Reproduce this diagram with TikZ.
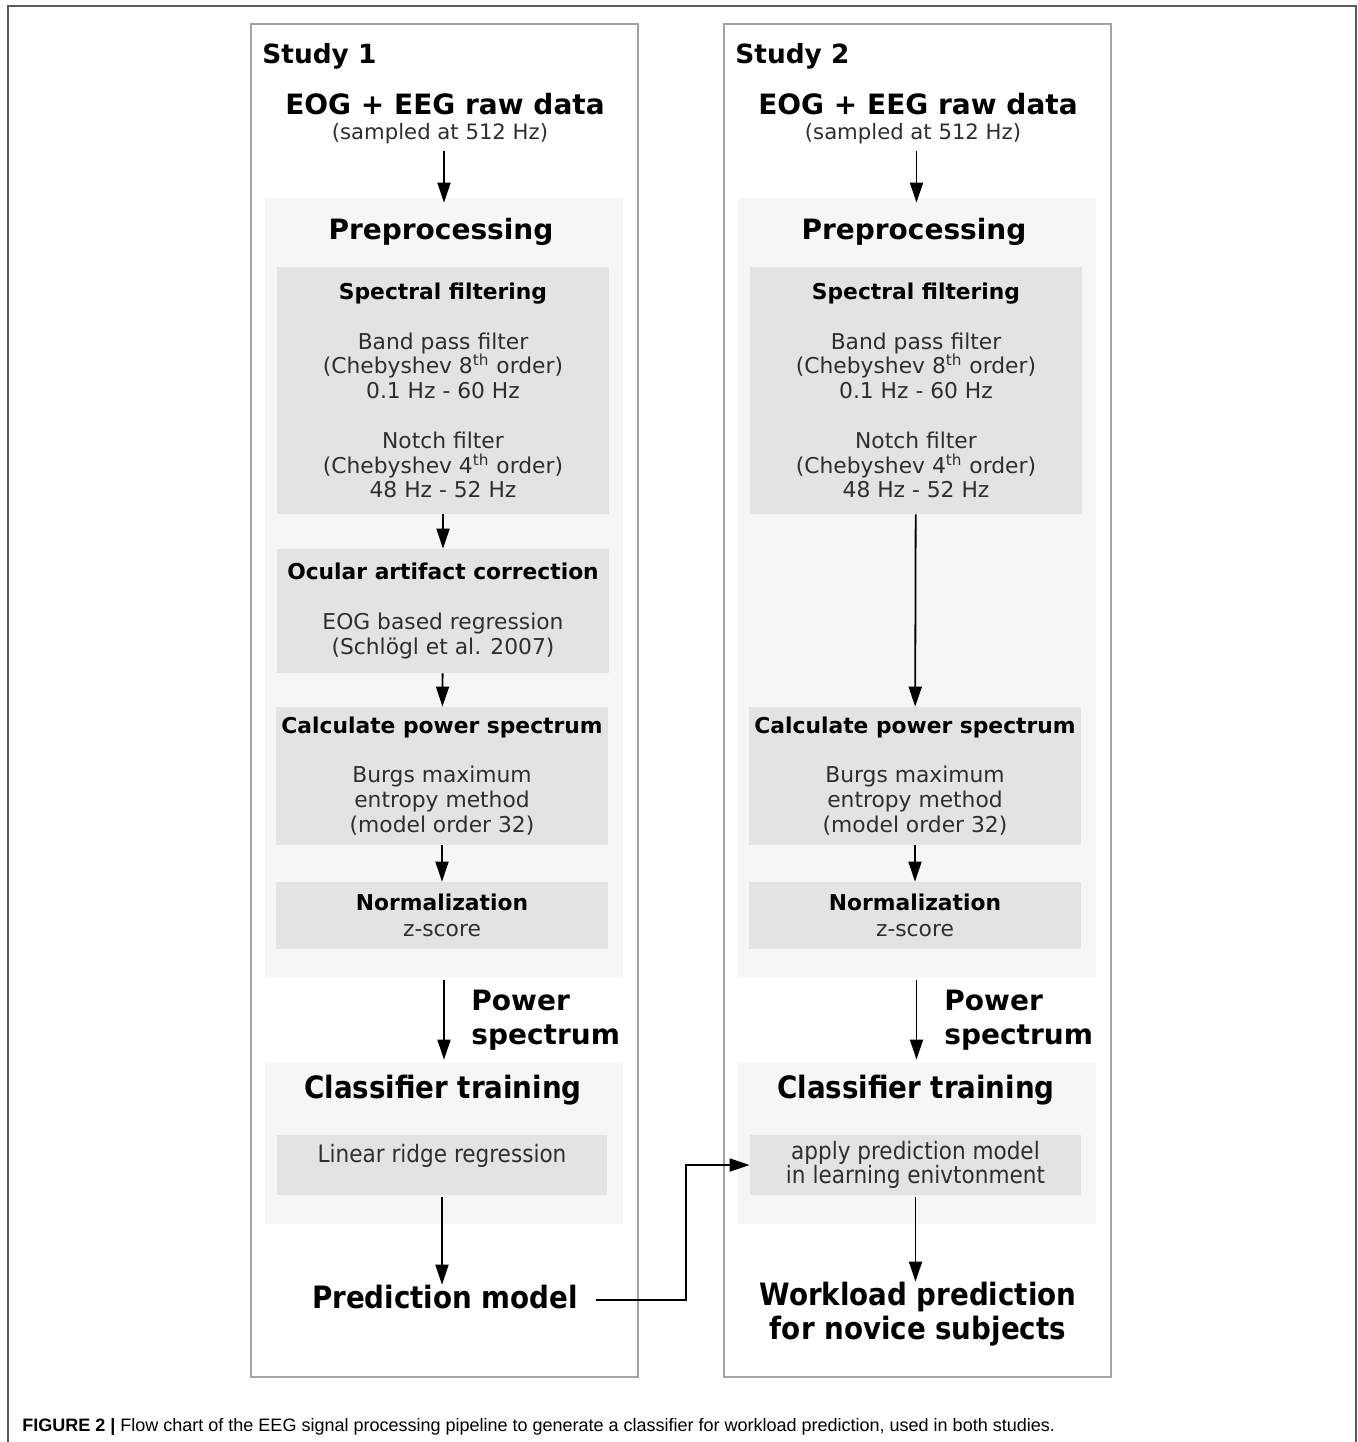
\documentclass[tikz,border=0pt]{standalone}
\usepackage{fontspec}
\setmainfont{DejaVu Sans}
\newfontfamily\condfont{DejaVu Sans Condensed}
\newfontfamily\capfont{Liberation Sans}
\usetikzlibrary{arrows.meta, positioning}
\definecolor{framegray}{HTML}{A3A3A3}
\definecolor{panelgray}{HTML}{F6F6F6}
\definecolor{boxgray}{HTML}{E3E3E3}
\definecolor{textgray}{HTML}{2E2E2E}
\definecolor{outergray}{HTML}{5A5A5A}

\begin{document}
\begin{tikzpicture}[
		x=0.5pt, y=-0.5pt,
		every node/.style={inner sep=0pt, align=center},
		studyframe/.style={draw=framegray, line width=1pt, minimum width=193.5pt, minimum height=676.5pt},
		panel/.style={fill=panelgray, minimum width=179pt},
		stepbox/.style={fill=boxgray, minimum width=166pt, text=textgray, font=\fontsize{10.9}{12.4}\selectfont},
		studylabel/.style={font=\fontsize{13.2}{16}\selectfont\bfseries},
		headline/.style={font=\fontsize{14}{17}\selectfont\bfseries},
		condline/.style={font=\condfont\fontsize{15.4}{17}\selectfont\bfseries},
		note/.style={font=\fontsize{10.6}{13}\selectfont, text=textgray},
		arrow/.style={-{Triangle[length=10pt,width=6.5pt]}, line width=0.9pt}
		]
		
		\useasboundingbox (0,0) rectangle (1358,1442);
		
		% Outer figure frame
		\draw[outergray, line width=0.75pt] (8,1442) -- (8,6) -- (1356,6) -- (1356,1442);
		
		% Study 1
		\node (study1) [studyframe] at (444.5,700.5) {};
		\node (lbl1) [studylabel, anchor=west] at (262,56) {Study 1};
		\node (raw1) [headline] at (445,104) {EOG + EEG raw data};
		\node (samp1) [note] at (440,134) {(sampled at 512 Hz)};
		
		\node (prep1) [panel, minimum height=389.5pt] at (444,587.5) {};
		\node (preptitle1) [headline] at (441,232) {Preprocessing};
		\node (spec1) [stepbox, minimum height=123.5pt] at (443,390.5) {\textcolor{black}{\textbf{Spectral filtering}}\\[12.4pt] Band pass filter\\(Chebyshev 8\textsuperscript{th} order)\\0.1 Hz - 60 Hz\\[12.4pt] Notch filter\\(Chebyshev 4\textsuperscript{th} order)\\48 Hz - 52 Hz};
		\node (ocu1) [stepbox, minimum height=62pt] at (443,611) {\textcolor{black}{\textbf{Ocular artifact correction}}\\[12.4pt] EOG based regression\\(Schlögl et al. 2007)};
		\node (pow1) [stepbox, minimum height=69pt] at (442,776) {\textcolor{black}{\textbf{Calculate power spectrum}}\\[12.4pt] Burgs maximum\\entropy method\\(model order 32)};
		\node (norm1) [stepbox, minimum height=33.5pt] at (442,915.5) {\textcolor{black}{\textbf{Normalization}}\\[0.6pt] z-score};
		
		\node (ps1) [headline, anchor=west, align=left] at (471,1020) {Power\\spectrum};
		
		\node (cls1) [panel, minimum height=80.5pt] at (444,1143.5) {};
		\node (clstitle1) [condline] at (443,1090) {Classifier training};
		\node (lin1) [stepbox, minimum width=165pt, minimum height=30pt, font=\condfont\fontsize{12}{12}\selectfont] at (442,1165) {Linear ridge regression\\\mbox{}};
		\node (predm1) [condline] at (445,1297) {Prediction model};
		
		% Study 2
		\node (study2) [studyframe] at (917.5,700.5) {};
		\node (lbl2) [studylabel, anchor=west] at (735,56) {Study 2};
		\node (raw2) [headline] at (918,104) {EOG + EEG raw data};
		\node (samp2) [note] at (913,134) {(sampled at 512 Hz)};
		
		\node (prep2) [panel, minimum height=389.5pt] at (916.5,587.5) {};
		\node (preptitle2) [headline] at (914,232) {Preprocessing};
		\node (spec2) [stepbox, minimum height=123.5pt] at (916,390.5) {\textcolor{black}{\textbf{Spectral filtering}}\\[12.4pt] Band pass filter\\(Chebyshev 8\textsuperscript{th} order)\\0.1 Hz - 60 Hz\\[12.4pt] Notch filter\\(Chebyshev 4\textsuperscript{th} order)\\48 Hz - 52 Hz};
		\node (pow2) [stepbox, minimum height=69pt] at (915,776) {\textcolor{black}{\textbf{Calculate power spectrum}}\\[12.4pt] Burgs maximum\\entropy method\\(model order 32)};
		\node (norm2) [stepbox, minimum height=33.5pt] at (915,915.5) {\textcolor{black}{\textbf{Normalization}}\\[0.6pt] z-score};
		
		\node (ps2) [headline, anchor=west, align=left] at (944,1020) {Power\\spectrum};
		
		\node (cls2) [panel, minimum height=80.5pt] at (916.5,1143.5) {};
		\node (clstitle2) [condline] at (916,1090) {Classifier training};
		\node (app2) [stepbox, minimum width=165.5pt, minimum height=30pt, font=\condfont\fontsize{12}{12}\selectfont] at (915.5,1165) {apply prediction model\\in learning enivtonment};
		\node (work2) [condline] at (918,1314) {Workload prediction\\for novice subjects};
		
		% Caption
		\node (caption) [anchor=west, font=\capfont\fontsize{9}{11}\selectfont] at (22,1427) {\textbf{FIGURE 2 |} Flow chart of the EEG signal processing pipeline to generate a classifier for workload prediction, used in both studies.};
		
		% Arrows
		\draw[arrow, shorten <=3pt, shorten >=-2.5pt] (prep1.north |- samp1.south) -- (prep1.north);
		\draw[arrow] (spec1) -- (ocu1);
		\draw[arrow] (ocu1) -- (pow1);
		\draw[arrow] (pow1) -- (norm1);
		\draw[arrow, shorten <=1.5pt, shorten >=1.5pt] (prep1) -- (cls1);
		\draw[arrow, shorten <=1pt] (lin1.south) -- (lin1.south |- predm1.north);
		
		\draw[arrow, shorten <=3pt, shorten >=-2.5pt] (prep2.north |- samp2.south) -- (prep2.north);
		\draw[arrow] (spec2) -- (pow2);
		\draw[arrow] (pow2) -- (norm2);
		\draw[arrow, shorten <=1.5pt, shorten >=1.5pt] (prep2) -- (cls2);
		\draw[arrow, shorten <=1pt] (app2.south) -- (app2.south |- work2.north);
		
		\coordinate (bend) at (686,1300);
		\draw[arrow, shorten <=9pt] (predm1.east |- bend) -- (bend) |- (app2.west);
		
	\end{tikzpicture}
\end{document}
